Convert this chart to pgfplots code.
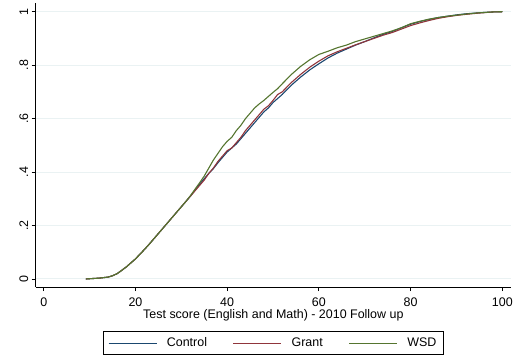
\documentclass[border=0pt]{standalone}
\usepackage{pgfplots}
\pgfplotsset{compat=1.18}
\usepackage{fontspec}
\setmainfont{Liberation Sans}
\definecolor{snavy}{RGB}{26,71,111}
\definecolor{smaroon}{RGB}{144,53,59}
\definecolor{sgreen}{RGB}{85,117,47}
\definecolor{sgrid}{RGB}{234,242,243}
\begin{document}
\begin{tikzpicture}
\useasboundingbox (-35.7bp,-73bp) rectangle (481.3bp,287bp);
\begin{axis}[
  scale only axis,
  width=475.3bp, height=284bp,
  xmin=-1.75, xmax=101.9,
  ymin=-0.03, ymax=1.0325,
  axis x line*=bottom, axis y line*=left,
  axis line style={black, line width=0.8bp},
  tick align=outside,
  major tick length=4bp,
  tick style={black, line width=0.8bp},
  xtick={0,20,40,60,80,100},
  ytick={0,0.2,0.4,0.6,0.8,1},
  yticklabels={0,.2,.4,.6,.8,1},
  yticklabel style={rotate=90, anchor=south, xshift=0bp},
  /pgf/number format/assume math mode=true,
  ticklabel style={font=\fontsize{12.5}{14}\selectfont},
  xticklabel style={yshift=-3bp},
  ymajorgrids,
  major grid style={sgrid, line width=1bp},
  xlabel={Test score (English and Math) - 2010 Follow up},
  xlabel style={font=\fontsize{12.5}{14}\selectfont, at={(axis description cs:0.5,0)}, anchor=base, yshift=-31.3bp},
  legend columns=3,
  legend style={at={(0.5,-0.197)}, anchor=center, draw=black, line width=0.8bp,
    font=\fontsize{12.5}{14}\selectfont,
    /tikz/every odd column/.append style={column sep=8bp},
    /tikz/every even column/.append style={column sep=24bp},
    inner xsep=5bp, inner ysep=4bp},
  legend image code/.code={\draw[#1, line width=0.6bp] (0bp,0bp) -- (48bp,0bp);},
  every axis plot/.append style={line width=1.1bp},
]
\addplot[snavy] coordinates {
(9.2,0) (10,0.001) (12,0.003) (14,0.007) (15,0.012) (16,0.02) (17,0.032) (18,0.045) (19,0.06) (20,0.075)
(21,0.093) (22,0.111) (23,0.13) (24,0.15) (25,0.17) (26,0.19) (27,0.21) (28,0.23) (29,0.25) (30,0.27)
(31,0.29) (32,0.31) (33,0.332) (34,0.355) (35,0.375) (36,0.395) (37,0.413) (38,0.435) (39,0.455) (40,0.475)
(41,0.49) (42,0.505) (43,0.525) (44,0.545) (45,0.565) (46,0.585) (47,0.605) (48,0.625) (49,0.64) (50,0.66)
(51,0.675) (52,0.69) (54,0.725) (56,0.755) (58,0.782) (60,0.805) (62,0.827) (64,0.845) (66,0.86) (68,0.875)
(70,0.888) (72,0.902) (74,0.915) (76,0.926) (78,0.94) (80,0.953) (82,0.963) (84,0.971) (86,0.978) (88,0.983)
(90,0.988) (92,0.992) (95,0.996) (98,0.999) (100,1)
};
\addlegendentry{Control}
\addplot[smaroon] coordinates {
(9.2,0) (10,0.001) (12,0.003) (14,0.007) (15,0.012) (16,0.02) (17,0.032) (18,0.045) (19,0.06) (20,0.075)
(21,0.093) (22,0.111) (23,0.13) (24,0.15) (25,0.17) (26,0.19) (27,0.21) (28,0.23) (29,0.25) (30,0.27)
(31,0.29) (32,0.31) (33,0.33) (34,0.35) (35,0.37) (36,0.395) (37,0.415) (38,0.44) (39,0.46) (40,0.48)
(41,0.49) (42,0.51) (43,0.53) (44,0.555) (45,0.575) (46,0.595) (47,0.615) (48,0.635) (49,0.648) (50,0.668)
(51,0.69) (52,0.7) (54,0.735) (56,0.765) (58,0.792) (60,0.815) (62,0.835) (64,0.85) (66,0.863) (68,0.876)
(70,0.888) (72,0.9) (74,0.912) (76,0.922) (78,0.935) (80,0.948) (82,0.958) (84,0.967) (86,0.975) (88,0.981)
(90,0.986) (92,0.99) (95,0.995) (98,0.999) (100,1)
};
\addlegendentry{Grant}
\addplot[sgreen] coordinates {
(9.2,0) (10,0.001) (12,0.003) (14,0.007) (15,0.012) (16,0.02) (17,0.032) (18,0.045) (19,0.06) (20,0.075)
(21,0.093) (22,0.111) (23,0.13) (24,0.15) (25,0.17) (26,0.19) (27,0.21) (28,0.23) (29,0.25) (30,0.27)
(31,0.29) (32,0.312) (33,0.336) (34,0.36) (35,0.385) (36,0.415) (37,0.445) (38,0.47) (39,0.495) (40,0.515)
(41,0.53) (42,0.555) (43,0.575) (44,0.6) (45,0.62) (46,0.64) (47,0.655) (48,0.668) (49,0.683) (50,0.698)
(51,0.712) (52,0.73) (54,0.765) (56,0.795) (58,0.82) (60,0.84) (62,0.852) (64,0.865) (66,0.875) (68,0.888)
(70,0.898) (72,0.908) (74,0.918) (76,0.928) (78,0.94) (80,0.955) (82,0.964) (84,0.972) (86,0.978) (88,0.983)
(90,0.987) (92,0.991) (95,0.996) (98,0.999) (100,1)
};
\addlegendentry{WSD}
\end{axis}
\end{tikzpicture}
\end{document}
